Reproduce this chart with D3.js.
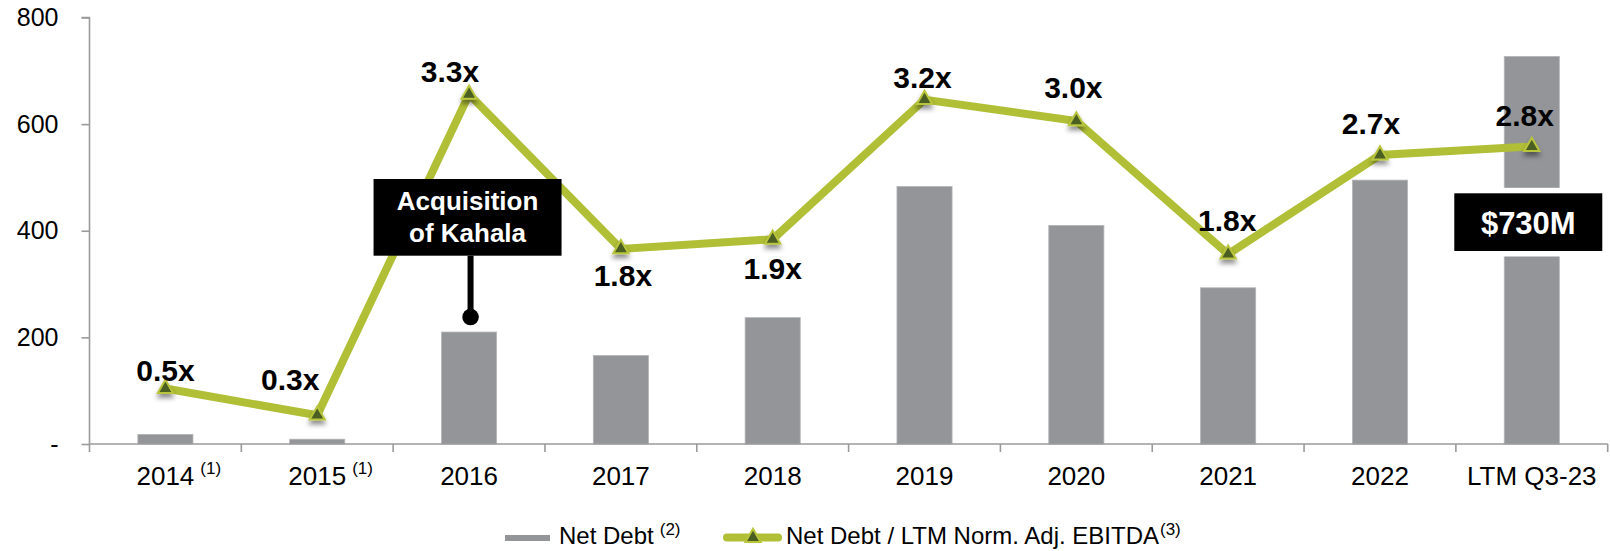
<!DOCTYPE html>
<html>
<head>
<meta charset="utf-8">
<script src="https://cdn.jsdelivr.net/npm/d3@7"></script>
<style>
  body { margin: 0; background: #fff; }
  svg { display: block; font-family: "Liberation Sans", Arial, sans-serif; }
</style>
</head>
<body>
<svg id="chart"></svg>
<script>
const categories = ['2014', '2015', '2016', '2017', '2018', '2019', '2020', '2021', '2022', 'LTM Q3-23']
const footnotes = ['(1)', '(1)', '', '', '', '', '', '', '', '']
const netDebt = [18, 9, 210, 166, 237, 483, 410, 293, 495, 727]
const leverage = [0.52, 0.27, 3.28, 1.83, 1.92, 3.23, 3.03, 1.78, 2.71, 2.79]
const leverageLabels = ['0.5x', '0.3x', '3.3x', '1.8x', '1.9x', '3.2x', '3.0x', '1.8x', '2.7x', '2.8x']
const yTicks = [0, 200, 400, 600, 800]

// where each ratio label sits relative to its marker
const labelNudge = {
  '2014': [0, -8], '2015': [-27, -25], '2016': [-19, -12], '2017': [2, 37], '2018': [0, 40],
  '2019': [-2, -12], '2020': [-3, -23], '2021': [-1, -23], '2022': [-9, -21], 'LTM Q3-23': [-7, -21]
}

const width = 1610
const height = 551
const margin = { top: 17.5, right: 2.3, bottom: 107, left: 89.5 }
const innerW = width - margin.left - margin.right
const innerH = height - margin.top - margin.bottom

const barColor = '#939598'
const lineColor = '#b0bf35'
const axisColor = '#9a9a9a'

const svg = d3.select('#chart')
    .attr('width', width)
    .attr('height', height)

const defs = svg.append('defs')
defs.append('filter')
    .attr('id', 'shadow')
    .attr('x', '-50%').attr('y', '-50%').attr('width', '200%').attr('height', '250%')
  .append('feDropShadow')
    .attr('dx', 0).attr('dy', 4)
    .attr('stdDeviation', 2.5)
    .attr('flood-color', '#000')
    .attr('flood-opacity', 0.45)

const g = svg.append('g')
    .attr('transform', `translate(${margin.left}, ${margin.top})`)

let x = d3.scaleBand()
          .domain(categories)
          .range([0, innerW])

let y = d3.scaleLinear()
          .domain([0, 800])
          .range([innerH, 0])

let y2 = d3.scaleLinear()
           .domain([0, 4])
           .range([innerH, 0])

const barW = x.bandwidth() * 0.363
const cx = d => x(d) + x.bandwidth() / 2

// bars
g.selectAll('.bar')
  .data(categories)
  .enter()
  .append('rect')
    .classed('bar', true)
    .attr('x', d => cx(d) - barW / 2)
    .attr('y', (d, i) => y(netDebt[i]))
    .attr('width', barW)
    .attr('height', (d, i) => y(0) - y(netDebt[i]))
    .attr('fill', barColor)
    .attr('stroke', '#b4b5b7')
    .attr('stroke-width', 0.8)

// y axis
let yAxis = d3.axisLeft(y)
              .tickValues(yTicks)
              .tickSize(8)
              .tickPadding(23)
              .tickFormat(d => d === 0 ? '-' : d)

let yG = g.append('g').call(yAxis)
yG.select('.domain').attr('stroke', axisColor).attr('stroke-width', 1.6)
  .attr('d', `M-8,0H0V${innerH + 8}`)
yG.selectAll('.tick line').attr('stroke', axisColor).attr('stroke-width', 1.6)
yG.selectAll('.tick text')
  .attr('fill', '#000')
  .style('font-size', '25px')
  .style('font-family', '"Liberation Sans", Arial, sans-serif')

// x axis: line with ticks at the category boundaries
let xG = g.append('g').attr('transform', `translate(0, ${innerH})`)
xG.append('line')
    .attr('x1', 0).attr('x2', innerW)
    .attr('stroke', axisColor).attr('stroke-width', 1.6)
xG.selectAll('.bound')
  .data(categories)
  .enter()
  .append('line')
    .attr('x1', d => x(d) + x.bandwidth())
    .attr('x2', d => x(d) + x.bandwidth())
    .attr('y1', 0).attr('y2', 8)
    .attr('stroke', axisColor).attr('stroke-width', 1.6)

let xLabels = xG.selectAll('.xlab')
  .data(categories)
  .enter()
  .append('g')
    .classed('xlab', true)

xLabels.append('text')
    .attr('x', d => cx(d))
    .attr('y', 40.5)
    .attr('text-anchor', 'middle')
    .style('font-size', '26px')
    .text(d => d)

xLabels.each(function(d, i) {
  if (!footnotes[i]) return
  let main = d3.select(this).select('text').node()
  let w = main.getComputedTextLength()
  d3.select(this).append('text')
      .attr('x', cx(d) + w / 2 + 6)
      .attr('y', 30)
      .style('font-size', '17px')
      .text(footnotes[i])
})

// leverage line
let lineGen = d3.line()
                .x(d => cx(d))
                .y((d, i) => y2(leverage[i]))

g.append('path')
    .datum(categories)
    .attr('d', lineGen)
    .attr('fill', 'none')
    .attr('stroke', lineColor)
    .attr('stroke-width', 8)
    .attr('stroke-linejoin', 'miter')

let triangle = d3.symbol(d3.symbolTriangle, 100)

g.selectAll('.marker')
  .data(categories)
  .enter()
  .append('path')
    .classed('marker', true)
    .attr('d', triangle)
    .attr('transform', (d, i) => `translate(${cx(d)}, ${y2(leverage[i])})`)
    .attr('fill', '#4b5e22')
    .attr('stroke', '#b9c63c')
    .attr('stroke-width', 2)
    .attr('filter', 'url(#shadow)')

g.selectAll('.ratio')
  .data(categories)
  .enter()
  .append('text')
    .classed('ratio', true)
    .attr('x', d => cx(d) + labelNudge[d][0])
    .attr('y', (d, i) => y2(leverage[i]) + labelNudge[d][1])
    .attr('text-anchor', 'middle')
    .style('font-size', '30px')
    .style('font-weight', 'bold')
    .text((d, i) => leverageLabels[i])

// "Acquisition of Kahala" callout
const kx = cx('2016') - 1.5
const boxTop = 179 - margin.top
const boxBottom = 255.7 - margin.top
g.append('line')
    .attr('x1', kx + 3).attr('x2', kx + 3)
    .attr('y1', boxBottom).attr('y2', y(netDebt[2]) - 15)
    .attr('stroke', '#000').attr('stroke-width', 6)
g.append('circle')
    .attr('cx', kx + 3).attr('cy', y(netDebt[2]) - 15)
    .attr('r', 8.3)
    .attr('fill', '#000')
g.append('rect')
    .attr('x', kx - 94).attr('y', boxTop)
    .attr('width', 188).attr('height', boxBottom - boxTop)
    .attr('fill', '#000')
g.append('text')
    .attr('x', kx).attr('y', 210 - margin.top)
    .attr('text-anchor', 'middle')
    .attr('fill', '#fff')
    .style('font-size', '26px').style('font-weight', 'bold')
    .text('Acquisition')
g.append('text')
    .attr('x', kx).attr('y', 241.7 - margin.top)
    .attr('text-anchor', 'middle')
    .attr('fill', '#fff')
    .style('font-size', '26px').style('font-weight', 'bold')
    .text('of Kahala')

// "$730M" callout on the last bar
const mx = cx('LTM Q3-23') - 3.5
const mTop = 193.3 - margin.top
const mH = 57.7
g.append('rect')
    .attr('x', mx - 74 - 5.5).attr('y', mTop - 5.5)
    .attr('width', 148 + 11).attr('height', mH + 11)
    .attr('fill', '#fff')
g.append('rect')
    .attr('x', mx - 74).attr('y', mTop)
    .attr('width', 148).attr('height', mH)
    .attr('fill', '#000')
g.append('text')
    .attr('x', mx).attr('y', 234.3 - margin.top)
    .attr('text-anchor', 'middle')
    .attr('fill', '#fff')
    .style('font-size', '31px').style('font-weight', 'bold')
    .text('$730M')

// legend
let legend = svg.append('g').style('font-size', '24px')
legend.append('rect')
    .attr('x', 505).attr('y', 535)
    .attr('width', 45).attr('height', 6)
    .attr('fill', barColor)
let t1 = legend.append('text').attr('x', 559).attr('y', 544.3).text('Net Debt')
legend.append('text')
    .attr('x', 559 + t1.node().getComputedTextLength() + 6).attr('y', 535)
    .style('font-size', '17px').text('(2)')

legend.append('line')
    .attr('x1', 727).attr('x2', 778)
    .attr('y1', 537.5).attr('y2', 537.5)
    .attr('stroke', lineColor).attr('stroke-width', 8)
    .attr('stroke-linecap', 'round')
legend.append('path')
    .attr('d', triangle)
    .attr('transform', 'translate(753, 537.5)')
    .attr('fill', '#4b5e22')
    .attr('stroke', '#b9c63c')
    .attr('stroke-width', 2)
let t2 = legend.append('text').attr('x', 786).attr('y', 544.3).text('Net Debt / LTM Norm. Adj. EBITDA')
legend.append('text')
    .attr('x', 786 + t2.node().getComputedTextLength() + 1).attr('y', 535)
    .style('font-size', '17px').text('(3)')
</script>
</body>
</html>
